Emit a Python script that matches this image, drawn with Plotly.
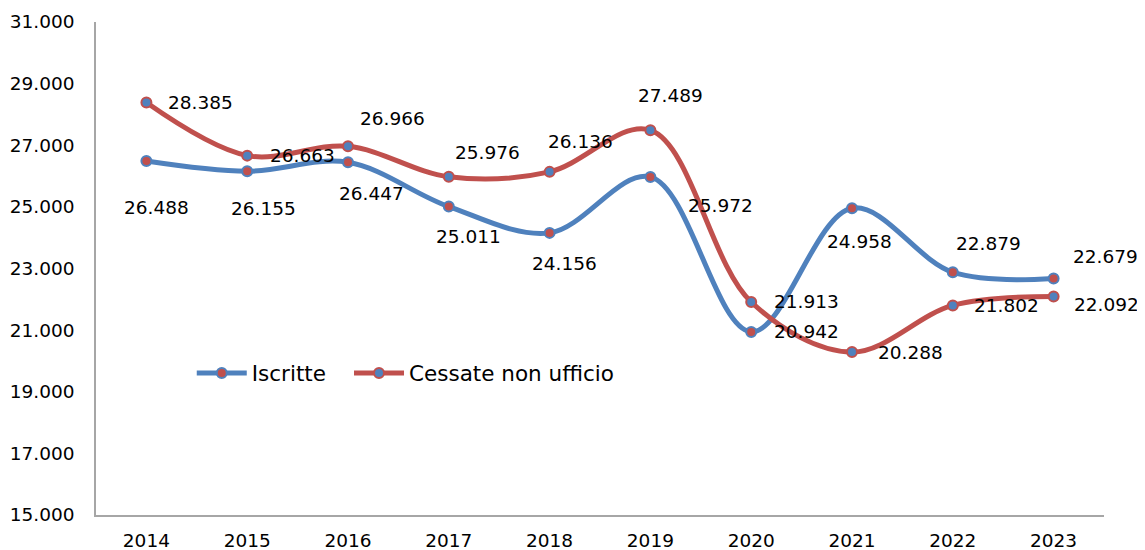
import plotly.graph_objects as go

years = ["2014", "2015", "2016", "2017", "2018", "2019", "2020", "2021", "2022", "2023"]
iscritte = [26488, 26155, 26447, 25011, 24156, 25972, 20942, 24958, 22879, 22679]
cessate = [28385, 26663, 26966, 25976, 26136, 27489, 21913, 20288, 21802, 22092]
y_ticks = [15000, 17000, 19000, 21000, 23000, 25000, 27000, 29000, 31000]

# label offsets in pixels (dx, dy) – style only
isc_off = [(10, -46), (16, -37), (23, -31), (20, -30), (15, -31), (70, -29), (55, 0), (7, -33), (36, 29), (52, 22)]
ces_off = [(54, 0), (55, 0), (44, 28), (39, 24), (31, 30), (20, 35), (55, 0), (58, 0), (54, 0), (53, -8)]

BLUE = "#4F81BD"
RED = "#C0504D"
FONT = "DejaVu Sans"
FS = 18.5

def fmt(v):
    return f"{v:,}".replace(",", ".")

fig = go.Figure()
fig.add_trace(go.Scatter(
    x=years, y=iscritte, name="Iscritte", mode="lines+markers", legend="legend",
    line=dict(color=BLUE, width=5, shape="spline", smoothing=1),
    marker=dict(size=10, color=RED, line=dict(color=BLUE, width=2)),
))
fig.add_trace(go.Scatter(
    x=years, y=cessate, name="Cessate non ufficio", mode="lines+markers", legend="legend2",
    line=dict(color=RED, width=5, shape="spline", smoothing=1),
    marker=dict(size=10, color=BLUE, line=dict(color=RED, width=2)),
))

annotations = []
for series, offs in ((iscritte, isc_off), (cessate, ces_off)):
    for i, (v, (dx, dy)) in enumerate(zip(series, offs)):
        annotations.append(dict(
            x=i, y=v, xref="x", yref="y", text=fmt(v), showarrow=False,
            xshift=dx, yshift=dy, font=dict(family=FONT, size=FS, color="#000000"),
        ))

leg_common = dict(orientation="h", y=0.288, xanchor="left", yanchor="middle",
                  bgcolor="rgba(0,0,0,0)", font=dict(family=FONT, size=21.5),
                  itemwidth=50, tracegroupgap=0)

# page body has an 8px margin, so the figure is sized to fit the window
fig.update_layout(
    width=1137, height=542,
    margin=dict(l=88, r=41, t=14, b=35),
    paper_bgcolor="white", plot_bgcolor="white",
    separators=",.",
    font=dict(family=FONT, size=FS, color="#000000"),
    showlegend=True,
    legend=dict(x=0.095, **leg_common),
    legend2=dict(x=0.251, **leg_common),
    annotations=annotations,
    xaxis=dict(type="category", showgrid=False, showline=True, linecolor="#a6a6a6",
               linewidth=1.5, ticks="", ticklabelstandoff=8, range=[-0.5, 9.5],
               automargin=False, tickfont=dict(family=FONT, size=FS)),
    yaxis=dict(range=[15000, 31000], tickvals=y_ticks, tickformat=",d", showgrid=False,
               showline=True, linecolor="#a6a6a6", linewidth=1.5, ticks="",
               ticklabelstandoff=16, zeroline=False, automargin=False,
               tickfont=dict(family=FONT, size=FS)),
)

fig.write_html("out.html")
